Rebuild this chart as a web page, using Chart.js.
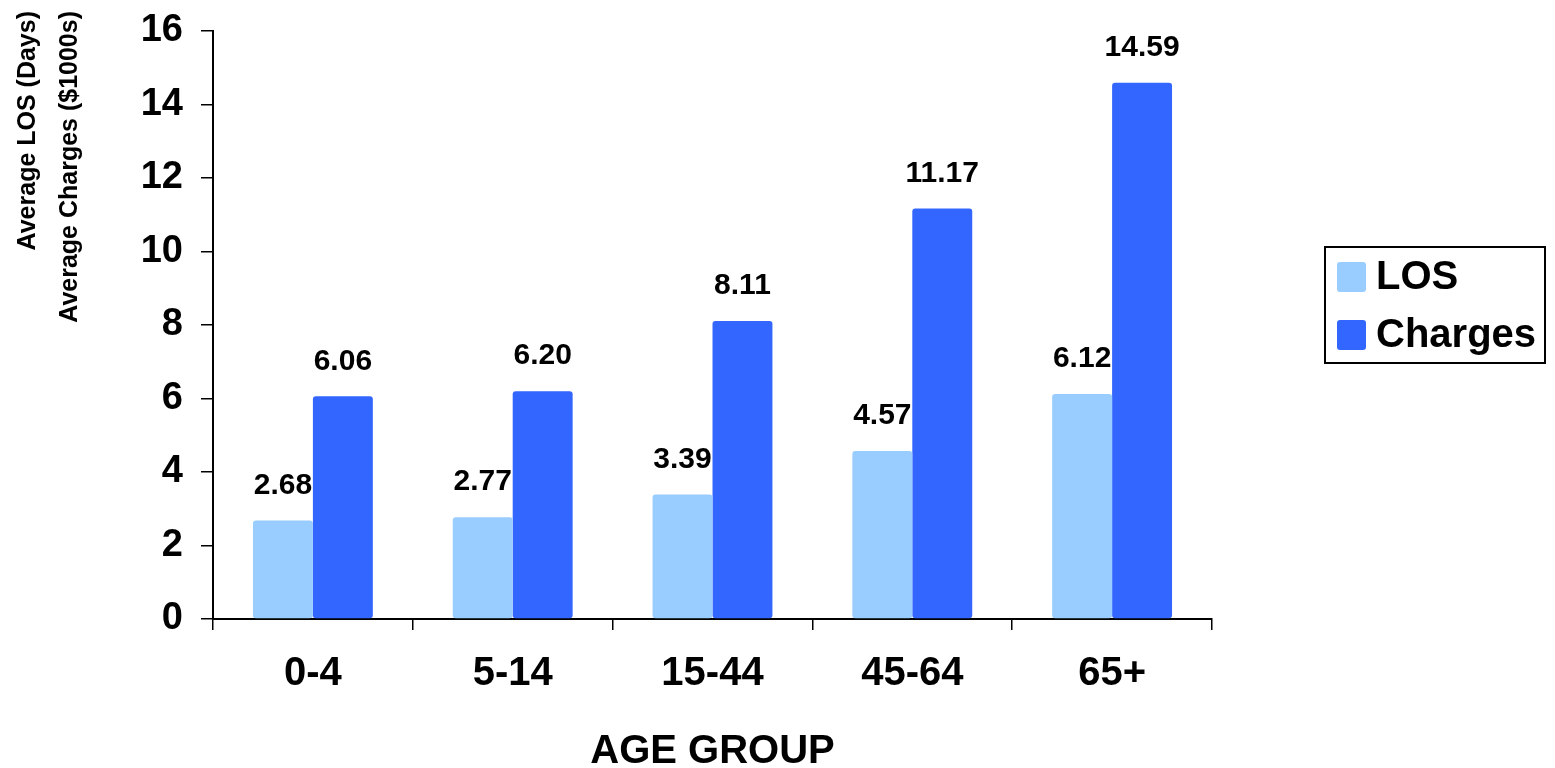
<!DOCTYPE html>
<html>
<head>
<meta charset="utf-8">
<script src="https://cdn.jsdelivr.net/npm/chart.js@4/dist/chart.umd.min.js"></script>
<style>
html,body{margin:0;padding:0;background:#fff;}
#wrap{width:1555px;height:768px;}
</style>
</head>
<body>
<div id="wrap"><canvas id="c" width="1555" height="768"></canvas></div>
<script>
const categories = ['0-4', '5-14', '15-44', '45-64', '65+'];
const losValues = [2.68, 2.77, 3.39, 4.57, 6.12];
const chargesValues = [6.06, 6.20, 8.11, 11.17, 14.59];
const seriesNames = ['LOS', 'Charges'];
const yTitleLines = ['Average LOS (Days)', 'Average Charges ($1000s)'];
const xTitle = 'AGE GROUP';
const yMin = 0, yMax = 16, yStep = 2;

const FONT = "'Liberation Sans', Arial, sans-serif";

const dataLabels = {
  id: 'dataLabels',
  afterDatasetsDraw(chart) {
    const ctx = chart.ctx;
    ctx.save();
    ctx.font = `bold 30px ${FONT}`;
    ctx.fillStyle = '#000';
    ctx.textAlign = 'center';
    ctx.textBaseline = 'middle';
    chart.data.datasets.forEach((ds, di) => {
      const meta = chart.getDatasetMeta(di);
      meta.data.forEach((bar, i) => {
        ctx.fillText(ds.data[i].toFixed(2), bar.x, bar.y - 35);
      });
    });
    ctx.restore();
  }
};

const titlesAndLegend = {
  id: 'titlesAndLegend',
  afterDraw(chart) {
    const ctx = chart.ctx;
    const area = chart.chartArea;
    ctx.save();
    ctx.font = `bold 25px ${FONT}`;
    ctx.fillStyle = '#000';
    ctx.textBaseline = 'middle';
    ctx.textAlign = 'right';
    const xs = [28, 70];
    yTitleLines.forEach((t, i) => {
      ctx.save();
      ctx.translate(xs[i], 11);
      ctx.rotate(-Math.PI / 2);
      ctx.fillText(t, 0, 0);
      ctx.restore();
    });
    ctx.font = `bold 40px ${FONT}`;
    ctx.textAlign = 'center';
    ctx.fillText(xTitle, (area.left + area.right) / 2, 752);
    ctx.lineWidth = 2;
    ctx.strokeStyle = '#000';
    ctx.strokeRect(1325, 247, 220, 116);
    ctx.font = `bold 40px ${FONT}`;
    ctx.textAlign = 'left';
    chart.data.datasets.forEach((ds, i) => {
      const y = 262 + i * 58;
      ctx.fillStyle = ds.backgroundColor;
      ctx.beginPath();
      ctx.roundRect(1337, y, 29, 30, 3);
      ctx.fill();
      ctx.fillStyle = '#000';
      ctx.fillText(ds.label, 1376, y + 16);
    });
    ctx.restore();
  }
};

new Chart(document.getElementById('c'), {
  type: 'bar',
  data: {
    labels: categories,
    datasets: [
      { label: seriesNames[0], data: losValues, backgroundColor: '#99CCFF',
        categoryPercentage: 0.6, barPercentage: 1.0, borderRadius: 3, borderSkipped: false },
      { label: seriesNames[1], data: chargesValues, backgroundColor: '#3366FF',
        categoryPercentage: 0.6, barPercentage: 1.0, borderRadius: 3, borderSkipped: false }
    ]
  },
  options: {
    responsive: false,
    devicePixelRatio: 1,
    animation: false,
    layout: { padding: { left: 0, top: 31, right: 343, bottom: 0 } },
    plugins: { legend: { display: false }, tooltip: { enabled: false } },
    scales: {
      x: {
        z: 1,
        grid: { offset: true, drawOnChartArea: false, drawTicks: true, tickLength: 11, color: '#000', lineWidth: 1.5 },
        border: { display: true, color: '#000', width: 2 },
        ticks: { color: '#000', font: { family: FONT, size: 40, weight: 'bold' }, padding: 20 },
        afterFit(s) { s.height = 149; s.paddingLeft = 0; s.paddingRight = 0; }
      },
      y: {
        z: 1,
        min: yMin, max: yMax,
        grid: { drawOnChartArea: false, drawTicks: true, tickLength: 12, color: '#000', lineWidth: 1.5 },
        border: { display: true, color: '#000', width: 2 },
        ticks: { stepSize: yStep, color: '#000', font: { family: FONT, size: 38, weight: 'bold' }, padding: 18 },
        afterFit(s) { s.width = 213; s.paddingTop = 0; s.paddingBottom = 0; }
      }
    }
  },
  plugins: [dataLabels, titlesAndLegend]
});
</script>
</body>
</html>
